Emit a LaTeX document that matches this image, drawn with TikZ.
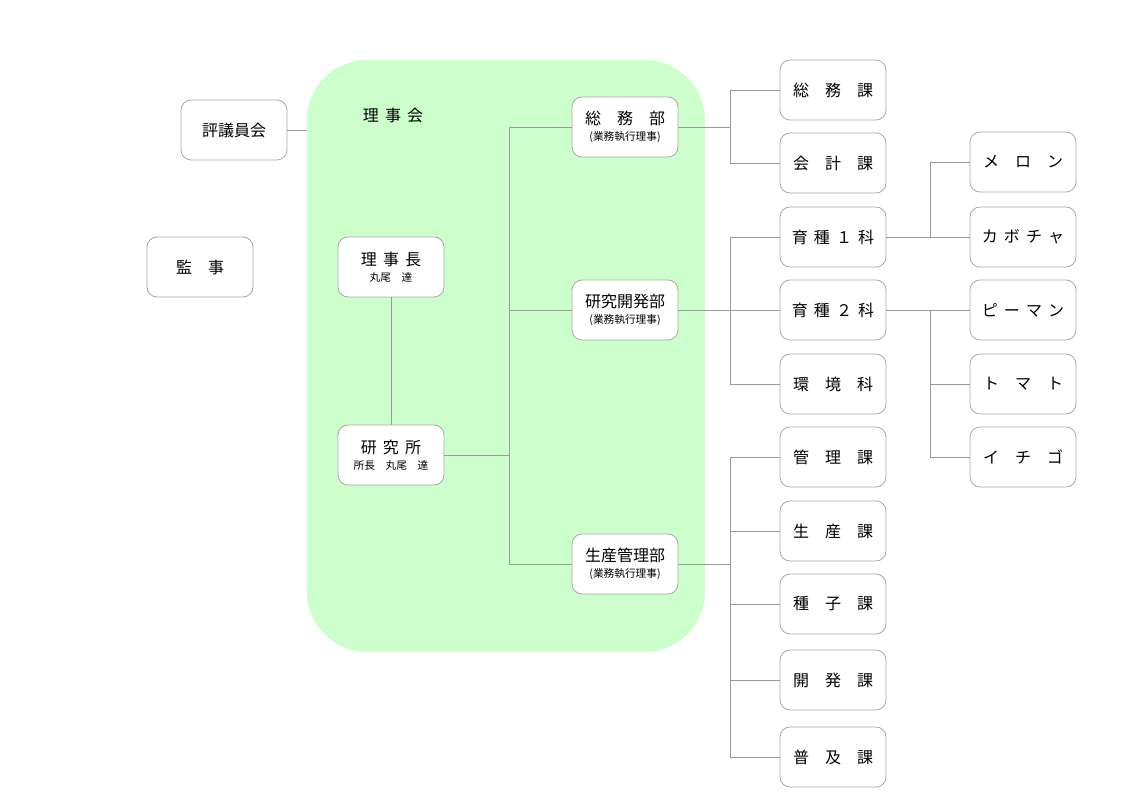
\documentclass[tikz,border=0pt]{standalone}
\usepackage{fontspec}
\setmainfont{Noto Sans CJK JP}
\usepackage{xcolor}
\usepackage{tikz}
\usetikzlibrary{positioning}
\definecolor{boardgreen}{HTML}{CCFFCC}
\definecolor{linegray}{HTML}{9A9A9A}
\definecolor{boxgray}{HTML}{A8A8A8}
\newcommand{\wsp}{\hspace{1em}}
\newcommand{\nsp}{\hspace{0.38em}}
\newcommand{\subtxt}[1]{{\fontsize{8}{9.5}\selectfont #1}}

\begin{document}
\begin{tikzpicture}[x=0.75pt,y=-0.75pt,
	box/.style={draw=boxgray,fill=white,rounded corners=7.5pt,line width=0.6pt,minimum width=79.5pt,minimum height=45pt,inner sep=1pt,align=center,font=\fontsize{12}{14}\selectfont},
	conn/.style={draw=linegray,line width=0.6pt}]
		\useasboundingbox (0,0) rectangle (1140,805);
		\fill[boardgreen,rounded corners=45pt] (307,60) rectangle (705,652);
		\node[font=\fontsize{12}{14}\selectfont] (rijikai) at (393,115) {理\nsp 事\nsp 会};
		\node[box] (hyogi) at (234,130) {評議員会};
		\node[box] (kanji) at (200,267) {監\wsp 事};
		\node[box] (rijicho) at (391,267) {理\nsp 事\nsp 長\\[-2pt]\subtxt{丸尾\hspace{1em}達}};
		\node[box] (kenkyusho) at (391,455) {研\nsp 究\nsp 所\\[-2pt]\subtxt{所長\hspace{1em}丸尾\hspace{1em}達}};
		\node[box] (soumubu) at (625,127) {総\wsp 務\wsp 部\\[-2pt]\subtxt{(業務執行理事)}};
		\node[box] (kaihatsubu) at (625,310) {研究開発部\\[-2pt]\subtxt{(業務執行理事)}};
		\node[box] (seisanbu) at (625,564) {生産管理部\\[-2pt]\subtxt{(業務執行理事)}};
		\node[box] (soumuka) at (833,90) {総\wsp 務\wsp 課};
		\node[box] (kaikeika) at (833,163) {会\wsp 計\wsp 課};
		\node[box] (ikushu1) at (833,237) {育\nsp 種\nsp １\nsp 科};
		\node[box] (ikushu2) at (833,310) {育\nsp 種\nsp ２\nsp 科};
		\node[box] (kankyo) at (833,384) {環\wsp 境\wsp 科};
		\node[box] (kanrika) at (833,457) {管\wsp 理\wsp 課};
		\node[box] (seisanka) at (833,531) {生\wsp 産\wsp 課};
		\node[box] (shushika) at (833,604) {種\wsp 子\wsp 課};
		\node[box] (kaihatsuka) at (833,680) {開\wsp 発\wsp 課};
		\node[box] (fukyuka) at (833,757) {普\wsp 及\wsp 課};
		\node[box] (meron) at (1023,162) {メ\wsp ロ\wsp ン};
		\node[box] (kabocha) at (1023,237) {カ\nsp ボ\nsp チ\nsp ャ};
		\node[box] (piman) at (1023,310) {ピ\nsp ー\nsp マ\nsp ン};
		\node[box] (tomato) at (1023,384) {ト\wsp マ\wsp ト};
		\node[box] (ichigo) at (1023,457) {イ\wsp チ\wsp ゴ};
		\coordinate (boardw) at (307,130);
		\coordinate (trunk) at (509,455);
		\coordinate (ja) at (730,127);
		\coordinate (jb) at (730,310);
		\coordinate (jc) at (730,564);
		\coordinate (jd) at (930,237);
		\coordinate (je) at (930,310);
		\draw[conn] (hyogi) -- (boardw);
		\draw[conn] (rijicho) -- (kenkyusho);
		\draw[conn] (kenkyusho) -- (trunk);
		\draw[conn] (trunk) |- (soumubu);
		\draw[conn] (trunk) |- (kaihatsubu);
		\draw[conn] (trunk) |- (seisanbu);
		\draw[conn] (soumubu) -- (ja);
		\draw[conn] (ja) |- (soumuka);
		\draw[conn] (ja) |- (kaikeika);
		\draw[conn] (kaihatsubu) -- (ikushu2);
		\draw[conn] (jb) |- (ikushu1);
		\draw[conn] (jb) |- (kankyo);
		\draw[conn] (seisanbu) -- (jc);
		\foreach \n in {kanrika,seisanka,shushika,kaihatsuka,fukyuka}
			\draw[conn] (jc) |- (\n);
		\draw[conn] (ikushu1) -- (kabocha);
		\draw[conn] (jd) |- (meron);
		\draw[conn] (ikushu2) -- (piman);
		\draw[conn] (je) |- (tomato);
		\draw[conn] (je) |- (ichigo);
	\end{tikzpicture}
\end{document}
